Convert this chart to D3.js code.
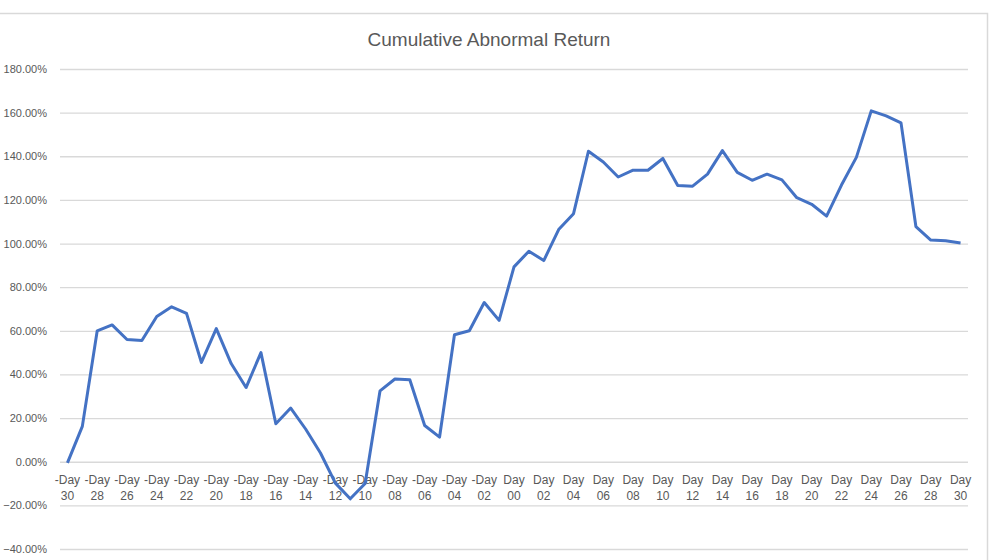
<!DOCTYPE html>
<html>
<head>
<meta charset="utf-8">
<script src="https://cdn.jsdelivr.net/npm/d3@7"></script>
<style>
body{margin:0;background:#fff;}
.chart text{font-family:"Liberation Sans",Arial,sans-serif;fill:#595959;}
</style>
</head>
<body>
<svg class="chart" id="car" width="992" height="560"></svg>

<script>

/// Event window days, -30 .. +30
var days = d3.range(-30, 31);
var categories = days.map(function(d){
    var n = String(Math.abs(d)).padStart(2, "0");
    return (d < 0 ? "-Day " : "Day ") + n;
});

/// Cumulative abnormal return
var car = [
   -0.005, 0.162, 0.600, 0.627, 0.560, 0.556, 0.666, 0.710, 0.680, 0.455,
    0.610, 0.450, 0.340, 0.500, 0.174, 0.246, 0.150, 0.040, -0.098, -0.170,
   -0.100, 0.325, 0.379, 0.376, 0.166, 0.113, 0.582, 0.600, 0.730, 0.648,
    0.893, 0.965, 0.922, 1.064, 1.137, 1.423, 1.374, 1.305, 1.336, 1.336,
    1.390, 1.266, 1.263, 1.318, 1.426, 1.326, 1.290, 1.318, 1.292, 1.210,
    1.180, 1.126, 1.268, 1.395, 1.608, 1.585, 1.553, 1.078, 1.016, 1.013,
    1.003
];

var yTicks = [-0.4, -0.2, 0, 0.2, 0.4, 0.6, 0.8, 1.0, 1.2, 1.4, 1.6, 1.8];

var svg = d3.select("#car");
var margin = {top: 69, right: 24, bottom: 11, left: 60};
var W = +svg.attr("width"), H = +svg.attr("height");

/// chart frame (only top and right edges are visible)
svg.append("path")
    .attr("d", "M0,13.5H987.5V560")
    .attr("fill", "none")
    .attr("stroke", "#d9d9d9")
    .attr("stroke-width", 1.5);

svg.append("text")
    .attr("x", 489).attr("y", 46)
    .attr("text-anchor", "middle")
    .style("font-size", "19px")
    .text("Cumulative Abnormal Return");

var x = d3.scaleBand()
    .domain(categories)
    .range([margin.left, W - margin.right]);

var y = d3.scaleLinear()
    .domain([-0.4, 1.8])
    .range([H - margin.bottom, margin.top]);

/// gridlines + y labels
var yAxis = d3.axisLeft(y)
    .tickValues(yTicks)
    .tickSize(-(W - margin.left - margin.right))
    .tickFormat(d3.format(".2%"));

var gy = svg.append("g")
    .attr("transform", "translate(" + margin.left + ",0)")
    .call(yAxis);
gy.select(".domain").remove();
gy.selectAll(".tick line").attr("stroke", "#d9d9d9").attr("stroke-width", 1.3);
gy.selectAll(".tick text").style("font-size", "11px").attr("x", -13);

/// category labels sit just under the zero line, every other day
var gx = svg.append("g")
    .attr("transform", "translate(0," + y(0) + ")")
    .call(d3.axisBottom(x)
        .tickValues(categories.filter(function(d, i){ return i % 2 === 0; }))
        .tickSize(0)
        .tickFormat(""));
gx.select(".domain").remove();

gx.selectAll(".tick").each(function(d){
    var parts = d.split(" ");
    var t = d3.select(this).append("text")
        .attr("text-anchor", "middle")
        .style("font-size", "12px");
    t.append("tspan").attr("x", 0).attr("y", 22).text(parts[0]);
    t.append("tspan").attr("x", 0).attr("y", 38).text(parts[1]);
});

/// the line
var line = d3.line()
    .x(function(d, i){ return x(categories[i]) + x.bandwidth() / 2; })
    .y(function(d){ return y(d); });

svg.append("path")
    .datum(car)
    .attr("fill", "none")
    .attr("stroke", "#4472c4")
    .attr("stroke-width", 3)
    .attr("stroke-linejoin", "round")
    .attr("d", line);

</script>
</body>
</html>
